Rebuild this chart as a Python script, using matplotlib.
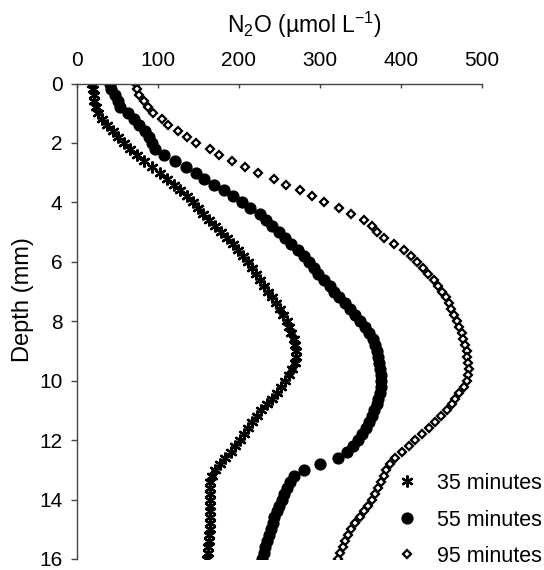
import matplotlib
matplotlib.use("Agg")
import matplotlib.pyplot as plt

plt.rcParams["font.family"] = ["Liberation Sans", "DejaVu Sans"]
plt.rcParams["mathtext.fontset"] = "custom"
plt.rcParams["mathtext.rm"] = "Liberation Sans"

# depth (mm), sampled every 0.2 mm
depth = [0.0, 0.2, 0.4, 0.6, 0.8, 1.0, 1.2, 1.4, 1.6, 1.8,
         2.0, 2.2, 2.4, 2.6, 2.8, 3.0, 3.2, 3.4, 3.6, 3.8,
         4.0, 4.2, 4.4, 4.6, 4.8, 5.0, 5.2, 5.4, 5.6, 5.8,
         6.0, 6.2, 6.4, 6.6, 6.8, 7.0, 7.2, 7.4, 7.6, 7.8,
         8.0, 8.2, 8.4, 8.6, 8.8, 9.0, 9.2, 9.4, 9.6, 9.8,
         10.0, 10.2, 10.4, 10.6, 10.8, 11.0, 11.2, 11.4, 11.6, 11.8,
         12.0, 12.2, 12.4, 12.6, 12.8, 13.0, 13.2, 13.4, 13.6, 13.8,
         14.0, 14.2, 14.4, 14.6, 14.8, 15.0, 15.2, 15.4, 15.6, 15.8,
         16.0]

# N2O (umol/L)
n2o_35 = [19, 20, 21, 22, 24, 27, 31, 38, 45, 51,
          58, 66, 74, 83, 93, 103, 111, 120, 128, 136,
          144, 150, 156, 163, 171, 178, 186, 193, 199, 205,
          211, 216, 221, 226, 231, 236, 241, 246, 251, 255,
          259, 262, 265, 268, 270, 271, 271, 269, 266, 262,
          257, 252, 247, 241, 235, 228, 222, 217, 212, 207,
          202, 196, 190, 183, 177, 171, 167, 165, 165, 165,
          165, 165, 165, 164, 164, 164, 163, 163, 162, 162,
          161]

n2o_55 = [41, 43, 47, 51, 54, 64, 71, 77, 84, 90,
          93, 97, 108, 121, 135, 147, 157, 169, 182, 193,
          204, 214, 226, 234, 241, 250, 257, 265, 273, 281,
          287, 293, 298, 305, 312, 318, 324, 331, 337, 344,
          350, 356, 361, 365, 368, 370, 372, 373, 374, 375,
          375, 375, 374, 372, 370, 367, 364, 361, 357, 352,
          347, 341, 334, 322, 300, 280, 268, 263, 259, 256,
          253, 250, 247, 244, 242, 240, 237, 235, 233, 231,
          229]

n2o_95 = [73, 75, 77, 83, 88, 94, 105, 113, 125, 136,
          147, 164, 176, 192, 208, 224, 244, 258, 276, 290,
          305, 324, 339, 354, 364, 370, 379, 392, 404, 413,
          420, 427, 433, 441, 446, 451, 455, 459, 462, 466,
          469, 472, 475, 477, 479, 481, 482, 483, 484, 483,
          481, 478, 472, 467, 463, 457, 449, 442, 435, 426,
          418, 410, 401, 393, 386, 382, 379, 376, 372, 368,
          364, 359, 354, 349, 344, 339, 335, 331, 328, 325,
          322]

labels = ["35 minutes", "55 minutes", "95 minutes"]

fig = plt.figure(figsize=(5.44, 5.70), dpi=100)
ax = fig.add_axes([76.5 / 544, 1 - 559 / 570, (482 - 76.5) / 544, (559 - 83.5) / 570])

ax.plot(n2o_35, depth, ls="none", marker=(6, 2, 0), ms=8.5, mew=1.7,
        color="black", label=labels[0])
ax.plot(n2o_55, depth, ls="none", marker="o", ms=7.8,
        color="black", label=labels[1])
ax.plot(n2o_95, depth, ls="none", marker="D", ms=4.4, mew=1.6,
        mfc="white", mec="black", label=labels[2])

ax.set_xlim(0, 500)
ax.set_ylim(16, 0)
ax.set_xticks([0, 100, 200, 300, 400, 500])
ax.set_yticks([0, 2, 4, 6, 8, 10, 12, 14, 16])
ax.xaxis.tick_top()
ax.tick_params(axis="x", direction="in", length=3, width=1, pad=10,
               labelsize=15, color="#444444")
ax.tick_params(axis="y", direction="out", length=4, width=1, pad=6,
               labelsize=15, color="#444444")

for side in ["right", "bottom"]:
    ax.spines[side].set_visible(False)
for side in ["top", "left"]:
    ax.spines[side].set_color("#444444")
    ax.spines[side].set_linewidth(1)
ax.patch.set_alpha(0)

fig.text(304 / 544, 1 - 25 / 570, r"N$_\mathregular{2}$O (µmol L$^\mathregular{-1}$)",
         ha="center", va="center", fontsize=16.5)
fig.text(23 / 544, 1 - 300 / 570, "Depth (mm)", rotation=90,
         ha="center", va="center", fontsize=17)

ax.legend(loc="upper left", bbox_to_anchor=(396 / 544, 1 - 473 / 570),
          bbox_transform=fig.transFigure, frameon=False, fontsize=15.5,
          borderpad=0, handlelength=1.0, handletextpad=0.9,
          labelspacing=0.72, borderaxespad=0)

fig.savefig("out.png", dpi=100)
